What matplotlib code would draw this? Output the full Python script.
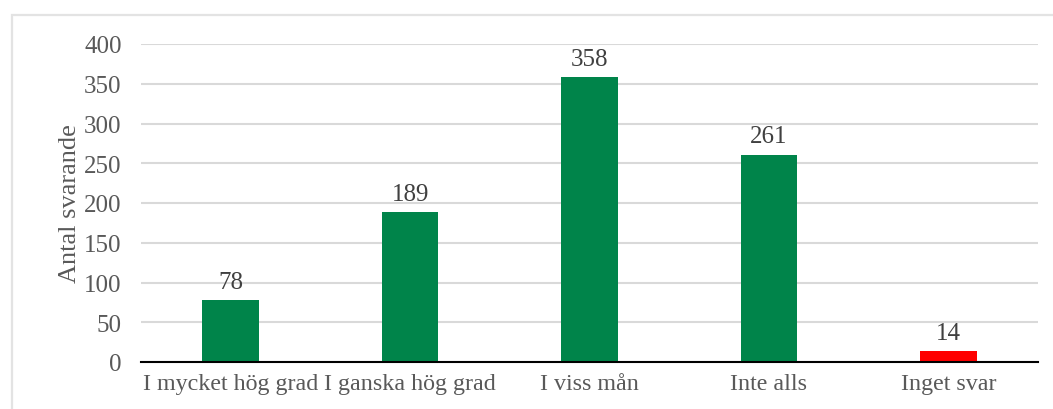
import matplotlib.pyplot as plt
from matplotlib.patches import Rectangle

categories = ['I mycket hög grad', 'I ganska hög grad', 'I viss mån', 'Inte alls', 'Inget svar']
values = [78, 189, 358, 261, 14]
colors = ['#00844A', '#00844A', '#00844A', '#00844A', '#FF0000']

plt.rcParams['font.family'] = ['Liberation Serif', 'DejaVu Serif']

fig = plt.figure(figsize=(10.53, 4.10), dpi=100)
# light frame round the chart area (only left and top edges show)
fig.patches.append(Rectangle((12 / 1053, -0.1), 1.1, (410 - 16) / 410 + 0.1, transform=fig.transFigure,
                             fill=False, edgecolor='#e3e3e3', linewidth=1.6))
ax = fig.add_axes([141 / 1053, 47 / 410, (1038 - 141) / 1053, (363 - 45) / 410])

x = list(range(len(categories)))
bars = ax.bar(x, values, width=0.315, color=colors, zorder=3)
for xi, v in zip(x, values):
    ax.text(xi, v + 9, str(v), ha='center', va='bottom', fontsize=18, color='#404040')

ax.set_xlim(-0.5, len(categories) - 0.5)
ax.set_ylim(0, 400)
ax.set_yticks(range(0, 401, 50))
ax.set_xticks(x)
ax.set_xticklabels(categories)
ax.grid(axis='y', color='#d9d9d9', linewidth=1.5, zorder=0)
ax.tick_params(axis='both', length=0, labelcolor='#595959')
ax.tick_params(axis='x', pad=8, labelsize=17.3)
ax.tick_params(axis='y', pad=14, labelsize=18)
for s in ['top', 'right', 'left']:
    ax.spines[s].set_visible(False)
ax.spines['bottom'].set_color('black')
ax.spines['bottom'].set_linewidth(1.5)
ax.spines['bottom'].set_zorder(4)
ax.set_ylabel('Antal svarande', fontsize=19, color='#595959', labelpad=2)

fig.savefig('out.png', dpi=100)
